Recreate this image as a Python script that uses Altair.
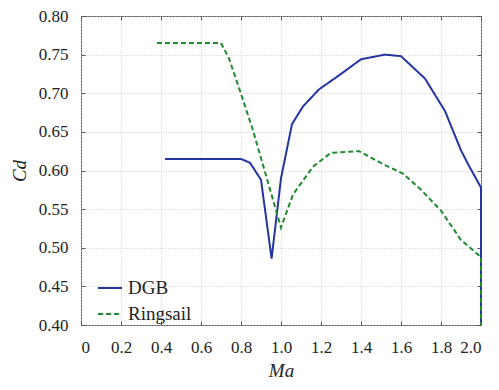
import altair as alt
import pandas as pd

dgb_ma = [0.42, 0.80, 0.845, 0.90, 0.953, 1.0, 1.055, 1.11, 1.19, 1.30, 1.40, 1.52, 1.60, 1.72, 1.82, 1.90, 1.94, 2.0, 2.0]
dgb_cd = [0.615, 0.615, 0.610, 0.588, 0.486, 0.590, 0.660, 0.683, 0.705, 0.725, 0.744, 0.750, 0.748, 0.719, 0.677, 0.626, 0.606, 0.578, 0.40]

ring_ma = [0.38, 0.70, 0.74, 0.79, 0.86, 0.93, 1.0, 1.06, 1.16, 1.25, 1.39, 1.52, 1.61, 1.70, 1.80, 1.90, 2.0, 2.0]
ring_cd = [0.765, 0.765, 0.745, 0.707, 0.652, 0.589, 0.526, 0.569, 0.605, 0.623, 0.625, 0.607, 0.596, 0.575, 0.548, 0.510, 0.488, 0.40]

series = ["DGB", "Ringsail"]
colors = ["#2535a0", "#1f8a2f"]

rows = []
for i, (m, c) in enumerate(zip(dgb_ma, dgb_cd)):
    rows.append({"Ma": m, "Cd": c, "series": "DGB", "idx": i})
for i, (m, c) in enumerate(zip(ring_ma, ring_cd)):
    rows.append({"Ma": m, "Cd": c, "series": "Ringsail", "idx": i})
df = pd.DataFrame(rows)

FONT = "'Liberation Serif', 'Times New Roman', Times, serif"
xscale = alt.Scale(domain=[0, 2.0], nice=False)
yscale = alt.Scale(domain=[0.40, 0.80], nice=False)
xticks = [0, 0.2, 0.4, 0.6, 0.8, 1.0, 1.2, 1.4, 1.6, 1.8, 2.0]
yticks = [0.40, 0.45, 0.50, 0.55, 0.60, 0.65, 0.70, 0.75, 0.80]

lines = alt.Chart(df).mark_line(strokeWidth=2).encode(
    x=alt.X("Ma:Q", scale=xscale,
            axis=alt.Axis(orient="bottom", values=xticks, offset=-4, tickSize=4,
                          labelPadding=14, domain=False, grid=True,
                          labelExpr="datum.value == 0 ? '0' : format(datum.value, '.1f')",
                          title="Ma", titleFontStyle="italic", titlePadding=6)),
    y=alt.Y("Cd:Q", scale=yscale,
            axis=alt.Axis(orient="left", values=yticks, offset=-4, tickSize=4,
                          labelPadding=13, domain=False, grid=True, format=".2f",
                          title="Cd", titleFontStyle="italic", titlePadding=9)),
    color=alt.Color("series:N", scale=alt.Scale(domain=series, range=colors), title=None),
    strokeDash=alt.StrokeDash("series:N", scale=alt.Scale(domain=series, range=[[1, 0], [5, 3]]), title=None),
    order="idx:Q",
)

frame = alt.Chart(df).mark_point(opacity=0, size=1).encode(
    x=alt.X("Ma:Q", scale=xscale,
            axis=alt.Axis(orient="top", values=xticks, offset=-4, tickSize=4,
                          labels=False, domain=False, grid=False, title=None)),
    y=alt.Y("Cd:Q", scale=yscale,
            axis=alt.Axis(orient="right", values=yticks, offset=-4, tickSize=4,
                          labels=False, domain=False, grid=False, title=None)),
)

chart = alt.layer(lines, frame).resolve_axis(x="independent", y="independent").properties(
    width=400, height=309,
    autosize=alt.AutoSizeParams(type="none"),
    padding={"left": 73, "top": 8, "right": 10, "bottom": 57},
).configure_view(
    stroke="#555555", strokeWidth=1
).configure_axis(
    labelFont=FONT, labelFontSize=17, labelColor="#222222",
    titleFont=FONT, titleFontSize=19, titleColor="#222222", titleFontWeight="normal",
    tickColor="#555555", tickWidth=1,
    gridColor="#c8c8c8", gridDash=[1, 2], gridWidth=1,
).configure_legend(
    orient="none", legendX=16, legendY=259, padding=0,
    labelFont=FONT, labelFontSize=19, labelColor="#222222",
    symbolType="stroke", symbolSize=576, symbolStrokeWidth=2,
    rowPadding=3, labelOffset=5,
)

chart.save("out.html", embed_options={"renderer": "svg", "actions": False})
